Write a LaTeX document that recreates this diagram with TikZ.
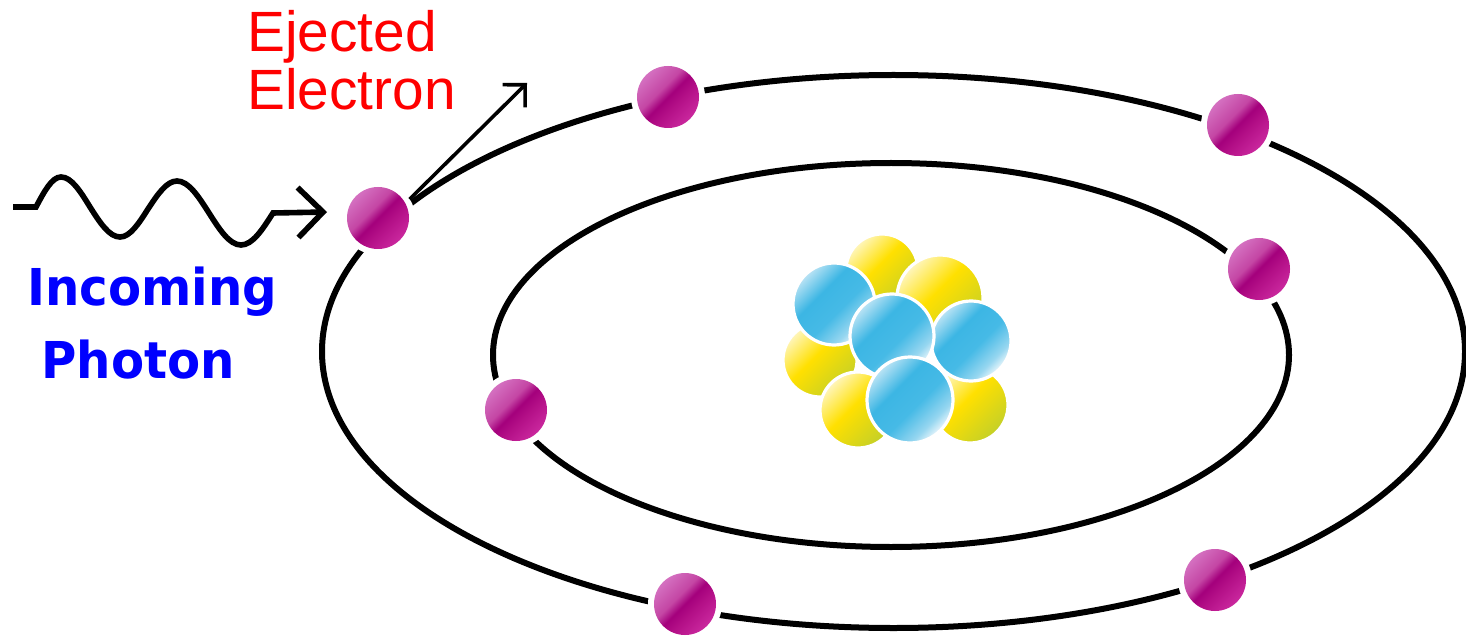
\documentclass[tikz,border=0pt]{standalone}
\usepackage{graphicx}
\usepackage{fontspec}
\setmainfont{Liberation Sans}
\newfontfamily\boldlabelfont{DejaVu Sans}
\usetikzlibrary{arrows.meta}

% colours
\definecolor{elLight}{RGB}{212,112,192}
\definecolor{elSoft}{RGB}{196,70,164}
\definecolor{elDark}{RGB}{164,0,124}
\definecolor{elDeep}{RGB}{178,14,134}
\definecolor{elRim}{RGB}{202,40,158}
\definecolor{nuBlueLight}{RGB}{188,228,245}
\definecolor{nuBlue}{RGB}{60,182,228}
\definecolor{nuBlueMid}{RGB}{70,186,230}
\definecolor{nuBlueFade}{RGB}{150,214,240}
\definecolor{nuBlueWhite}{RGB}{235,247,252}
\definecolor{nuYelLight}{RGB}{255,246,190}
\definecolor{nuYel}{RGB}{255,224,0}
\definecolor{nuYelGreen}{RGB}{196,208,40}
\definecolor{labelRed}{RGB}{255,0,0}
\definecolor{labelBlue}{RGB}{0,0,255}

% sphere shadings (the path fills the 25bp--75bp band)
\pgfdeclarehorizontalshading{electronshade}{100bp}{%
  color(0bp)=(elLight); color(25bp)=(elLight); color(42bp)=(elSoft);
  color(50bp)=(elDark); color(58bp)=(elDeep); color(75bp)=(elRim);
  color(100bp)=(elRim)}
\pgfdeclarehorizontalshading{protonshade}{100bp}{%
  color(0bp)=(nuBlueLight); color(25bp)=(nuBlueLight); color(40bp)=(nuBlue);
  color(55bp)=(nuBlueMid); color(68bp)=(nuBlueFade); color(75bp)=(nuBlueWhite);
  color(100bp)=(nuBlueWhite)}
\pgfdeclarehorizontalshading{neutronshade}{100bp}{%
  color(0bp)=(nuYelLight); color(25bp)=(nuYelLight); color(46bp)=(nuYel);
  color(75bp)=(nuYelGreen); color(100bp)=(nuYelGreen)}

% sizes of the spheres are given as diameters in picture units (0.5pt)
\tikzset{
  orbit/.style={draw=black, line width=3pt},
  electron/.style={circle, inner sep=0pt, outer sep=0pt, minimum size=31pt,
    shading=electronshade, shading angle=-45,
    preaction={draw=white, line width=6pt}},
  proton/.style={circle, inner sep=0pt, outer sep=0pt, minimum size={#1*0.5pt},
    shading=protonshade, shading angle=-45, draw=white, line width=1.6pt},
  neutron/.style={circle, inner sep=0pt, outer sep=0pt, minimum size={#1*0.5pt},
    shading=neutronshade, shading angle=-45, draw=white, line width=1.6pt},
  photon/.style={draw=black, line width=2.8pt,
    -{Straight Barb[length=12.5pt, width=25pt]}},
  ejectarrow/.style={draw=black, line width=1.8pt, shorten <=3pt,
    -{Straight Barb[length=8pt, width=16pt]}},
  redlabel/.style={anchor=base west, inner sep=0pt, text=labelRed,
    font=\fontsize{28.4pt}{34pt}\selectfont},
  bluelabel/.style={anchor=base west, inner sep=0pt, text=labelBlue,
    font=\boldlabelfont\bfseries\fontsize{25.4pt}{30pt}\selectfont},
}

\begin{document}
\begin{tikzpicture}[x=0.5pt, y=-0.5pt]
  \useasboundingbox (0,0) rectangle (1466,636);
  \fill[white] (0,0) rectangle (1466,636);

  % electron shells
  \draw[orbit] (893.5,351.5) ellipse [x radius=571.5, y radius=276.5];
  \draw[orbit] (891,355) ellipse [x radius=398, y radius=192];

  % nucleus: neutrons behind, protons in front
  \node[neutron=72] (n1) at (882,270) {};
  \node[neutron=86] (n2) at (940,298) {};
  \node[neutron=74] (n3) at (820,360) {};
  \node[neutron=76] (n4) at (858,410) {};
  \node[neutron=76] (n5) at (970,405) {};
  \node[proton=82] (p1) at (834,304) {};
  \node[proton=80] (p2) at (971,341) {};
  \node[proton=84] (p3) at (892,336) {};
  \node[proton=86] (p4) at (910,400) {};

  % electrons
  \node[electron] (e1) at (378,218) {};
  \node[electron] (e2) at (668,97) {};
  \node[electron] (e3) at (1238,125) {};
  \node[electron] (e4) at (1259,269) {};
  \node[electron] (e5) at (516,410) {};
  \node[electron] (e6) at (685,604) {};
  \node[electron] (e7) at (1215,580) {};

  % incoming photon
  \coordinate (photonstart) at (13,207);
  \coordinate (photontip) at (327,212);
  \draw[photon] (photonstart) -- (36,207)
    sin (61,177) cos (90,207) sin (120,237) cos (148,209)
    sin (177,181) cos (209,213) sin (241,245) cos (273,213)
    -- (photontip);

  % ejected electron
  \coordinate (ejecttip) at (527,83);
  \draw[ejectarrow] (e1.28) -- (ejecttip);

  % labels
  \node[redlabel] (ejlbl1) at (247,52) {Ejected};
  \node[redlabel] (ejlbl2) at (247,110) {Electron};
  \node[bluelabel] (phlbl1) at (27,306) {\scalebox{0.95}[1]{Incoming}};
  \node[bluelabel] (phlbl2) at (41,378) {\scalebox{0.95}[1]{Photon}};
\end{tikzpicture}
\end{document}
